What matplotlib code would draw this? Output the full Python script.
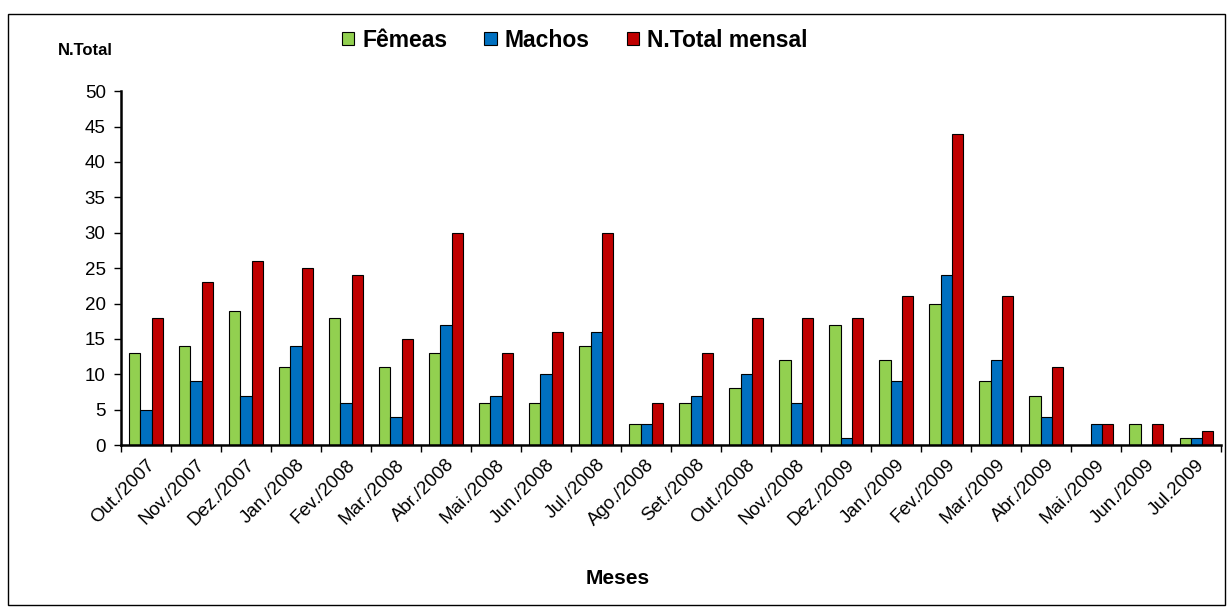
import numpy as np
import matplotlib
matplotlib.use('Agg')
import matplotlib.pyplot as plt
from matplotlib.patches import Rectangle

plt.rcParams['font.family'] = ['Liberation Sans', 'DejaVu Sans']

months = ["Out./2007", "Nov./2007", "Dez./2007", "Jan./2008", "Fev./2008", "Mar./2008",
	"Abr./2008", "Mai./2008", "Jun./2008", "Jul./2008", "Ago./2008", "Set./2008",
	"Out./2008", "Nov./2008", "Dez./2009", "Jan./2009", "Fev./2009", "Mar./2009",
	"Abr./2009", "Mai./2009", "Jun./2009", "Jul.2009"]
femeas = [13, 14, 19, 11, 18, 11, 13, 6, 6, 14, 3, 6, 8, 12, 17, 12, 20, 9, 7, 0, 3, 1]
machos = [5, 9, 7, 14, 6, 4, 17, 7, 10, 16, 3, 7, 10, 6, 1, 9, 24, 12, 4, 3, 0, 1]
total = [18, 23, 26, 25, 24, 15, 30, 13, 16, 30, 6, 13, 18, 18, 18, 21, 44, 21, 11, 3, 3, 2]

fig = plt.figure(figsize=(12.32, 6.08), dpi=100)
ax = fig.add_axes([0.0982, 0.268, 0.893, 0.582])

x = np.arange(len(months))
w = 0.222
series = [(femeas, "#92D050", "Fêmeas"), (machos, "#0070C0", "Machos"), (total, "#C00000", "N.Total mensal")]
for i, (vals, color, label) in enumerate(series):
	ax.bar(x + (i - 1) * w, vals, w, color=color, edgecolor="black", linewidth=0.8, label=label)

ax.set_xlim(-0.5, len(months) - 0.5)
ax.set_ylim(0, 50)
ax.set_yticks(range(0, 51, 5))
ax.tick_params(axis='y', labelsize=13.5, direction='out', length=5, width=1, pad=6)

ax.set_xticks(x)
ax.set_xticklabels(months, rotation=45, ha='right', rotation_mode='anchor', fontsize=13.5)
ax.tick_params(axis='x', which='major', length=0, pad=8)
ax.set_xticks(np.arange(-0.5, len(months), 1), minor=True)
ax.tick_params(axis='x', which='minor', direction='out', length=5, width=1)

for side in ["top", "right"]:
	ax.spines[side].set_visible(False)
ax.spines["left"].set_linewidth(1.8)
ax.spines["bottom"].set_linewidth(1.8)

fig.legend(loc='center', bbox_to_anchor=(0.4665, 0.934), ncol=3, frameon=False,
	prop={'weight': 'bold', 'size': 16.5}, handlelength=0.55, handleheight=0.55,
	handletextpad=0.35, columnspacing=1.6)

fig.text(0.069, 0.917, "N.Total", fontsize=12, fontweight='bold', ha='center', va='center')
fig.text(0.501, 0.049, "Meses", fontsize=15, fontweight='bold', ha='center', va='center')

fig.patches.append(Rectangle((0.0065, 0.005), 0.988, 0.972, transform=fig.transFigure,
	fill=False, edgecolor='black', linewidth=1))

plt.savefig("out.png", dpi=100)
